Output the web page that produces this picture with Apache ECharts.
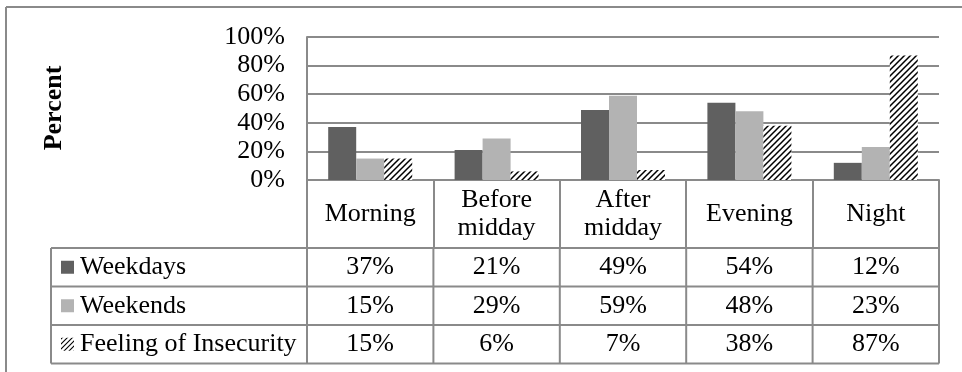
<!DOCTYPE html>
<html>
<head>
<meta charset="utf-8">
<title>Percent by time of day</title>
<script src="https://cdn.jsdelivr.net/npm/echarts@6/dist/echarts.min.js"></script>
<style>
  html, body { margin: 0; padding: 0; background: #fff; }
  #chart { width: 962px; height: 372px; }
</style>
</head>
<body>
<div id="chart"></div>
<script>
// Time-of-day categories (header row of the data table)
const categories = ['Morning', 'Before\nmidday', 'After\nmidday', 'Evening', 'Night'];
// Series values, in percent
const weekdays = [37, 21, 49, 54, 12];
const weekends = [15, 29, 59, 48, 23];
const insecurity = [15, 6, 7, 38, 87];
const seriesNames = ['Weekdays', 'Weekends', 'Feeling of Insecurity'];

const FONT = '"Liberation Serif", "Times New Roman", serif';
const FS = 26;
const LINE = '#8a8a8a';
const DARK = '#606060';
const LIGHT = '#b3b3b3';

// Wide upward diagonal hatch used for the insecurity series
function makeHatch(size, width) {
  const c = document.createElement('canvas');
  const s = size;
  c.width = s; c.height = s;
  const g = c.getContext('2d');
  g.fillStyle = '#fff';
  g.fillRect(0, 0, s, s);
  g.strokeStyle = '#000';
  g.lineWidth = width;
  g.beginPath();
  g.moveTo(-1, s + 1); g.lineTo(s + 1, -1);
  g.moveTo(-1, 1); g.lineTo(1, -1);
  g.moveTo(s - 1, s + 1); g.lineTo(s + 1, s - 1);
  g.stroke();
  return c;
}
const hatchCanvas = makeHatch(6, 1.5);
const hatchIconCanvas = makeHatch(5, 1.1);
const hatchIcon = { type: 'pattern', image: hatchIconCanvas, repeat: 'repeat' };

const chart = echarts.init(document.getElementById('chart'), null, { renderer: 'canvas' });

const HEADER_H = 68;
const option = {
  animation: false,
  backgroundColor: '#fff',
  grid: { left: 307, right: 23, top: 37, bottom: 192, containLabel: false },
  xAxis: {
    type: 'category',
    data: categories,
    axisLine: { show: true, lineStyle: { color: LINE, width: 2 } },
    axisTick: { show: true, inside: false, length: HEADER_H, interval: 0, lineStyle: { color: LINE, width: 2 } },
    axisLabel: {
      interval: 0, margin: 34, verticalAlign: 'middle',
      fontFamily: FONT, fontSize: FS, lineHeight: 28, color: '#000'
    },
    splitLine: { show: false }
  },
  yAxis: {
    type: 'value', min: 0, max: 100, interval: 20,
    axisLine: { show: true, lineStyle: { color: LINE, width: 2 } },
    axisTick: { show: false },
    splitLine: { show: true, lineStyle: { color: LINE, width: 2 } },
    axisLabel: { formatter: '{value}%', margin: 22, fontFamily: FONT, fontSize: FS, color: '#000' }
  },
  series: [
    { name: seriesNames[0], type: 'bar', data: weekdays, barWidth: 28, barGap: '0%', itemStyle: { color: DARK } },
    { name: seriesNames[1], type: 'bar', data: weekends, barWidth: 28, barGap: '0%', itemStyle: { color: LIGHT } },
    { name: seriesNames[2], type: 'bar', data: insecurity, barWidth: 28, barGap: '0%', itemStyle: { color: { image: hatchCanvas, repeat: 'repeat' } } }
  ]
};
chart.setOption(option);

// Data table below the plot, laid out on the category axis positions
function buildTable() {
  const c0 = chart.convertToPixel({ xAxisIndex: 0 }, 0);
  const c1 = chart.convertToPixel({ xAxisIndex: 0 }, 1);
  const step = c1 - c0;
  const baseY = chart.convertToPixel({ yAxisIndex: 0 }, 0);
  const left = c0 - step / 2;
  const right = left + step * categories.length;
  const tableLeft = 51;
  const top = baseY + HEADER_H;
  const rowH = 38.5;
  const rows = [weekdays, weekends, insecurity];
  const icons = [DARK, LIGHT, hatchIcon];
  const els = [];
  const lineStyle = { stroke: LINE, lineWidth: 2 };

  // chart frame
  els.push({ type: 'line', shape: { x1: 6, y1: 7, x2: 962, y2: 7 }, style: lineStyle, silent: true });
  els.push({ type: 'line', shape: { x1: 6, y1: 7, x2: 6, y2: 372 }, style: lineStyle, silent: true });

  // horizontal rules
  for (let r = 0; r <= rows.length; r++) {
    const y = top + r * rowH;
    els.push({ type: 'line', shape: { x1: tableLeft, y1: y, x2: right, y2: y }, style: lineStyle, silent: true });
  }
  // vertical rules
  const bottom = top + rows.length * rowH;
  els.push({ type: 'line', shape: { x1: tableLeft, y1: top, x2: tableLeft, y2: bottom }, style: lineStyle, silent: true });
  for (let i = 0; i <= categories.length; i++) {
    const x = left + i * step;
    els.push({ type: 'line', shape: { x1: x, y1: top, x2: x, y2: bottom }, style: lineStyle, silent: true });
  }
  // rows
  rows.forEach((vals, r) => {
    const cy = top + r * rowH + rowH / 2;
    els.push({ type: 'rect', shape: { x: 61, y: cy - 6.5, width: 13, height: 13 }, style: { fill: icons[r] }, silent: true });
    els.push({ type: 'text', x: 80, y: cy, style: { text: seriesNames[r], fontFamily: FONT, fontSize: FS, fill: '#000', align: 'left', verticalAlign: 'middle' }, silent: true });
    vals.forEach((v, i) => {
      els.push({ type: 'text', x: c0 + i * step, y: cy, style: { text: v + '%', fontFamily: FONT, fontSize: FS, fill: '#000', align: 'center', verticalAlign: 'middle' }, silent: true });
    });
  });
  // axis title
  els.push({ type: 'text', x: 54, y: 108, rotation: Math.PI / 2, style: { text: 'Percent', fontFamily: FONT, fontSize: FS, fontWeight: 'bold', fill: '#000', align: 'center', verticalAlign: 'middle' }, silent: true });

  chart.setOption({ graphic: { elements: els } });
}
buildTable();
</script>
</body>
</html>
